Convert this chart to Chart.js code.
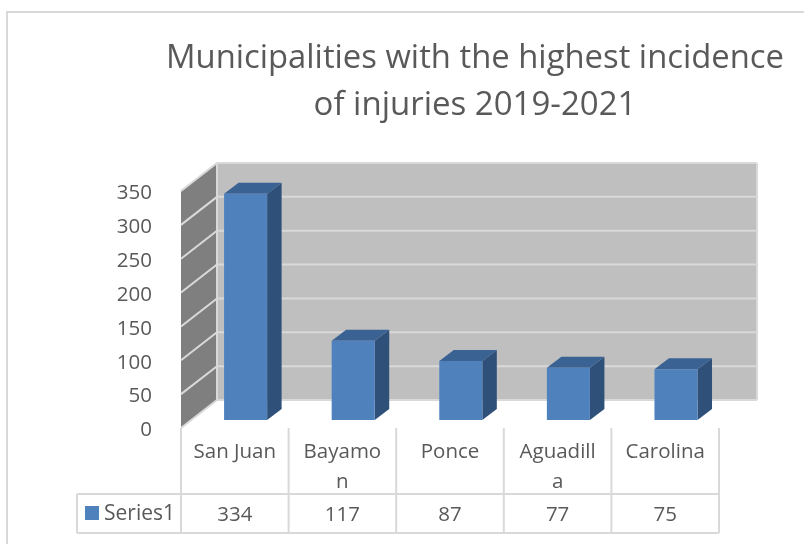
<!DOCTYPE html>
<html><head><meta charset="utf-8">
<style>html,body{margin:0;padding:0;background:#fff}canvas{display:block}#w{width:804px;height:544px}</style>
<script src="https://cdn.jsdelivr.net/npm/chart.js@4"></script></head>
<body><div id="w"><canvas id="c" width="804" height="544"></canvas></div>
<script>
const categories = [["San Juan"], ["Bayamo", "n"], ["Ponce"], ["Aguadill", "a"], ["Carolina"]];
const seriesName = "Series1";
const values = [334, 117, 87, 77, 75];
const titleLines = ["Municipalities with the highest incidence", "of injuries 2019-2021"];
const FONT = '"Open Sans"';
const TEXT = '#595959', LINE = '#d9d9d9';
const WALL_DX = 36, WALL_DY = -28, BAR_DX = 10.8, BAR_DY = -8, BAR_SX = 14.5, BAR_SY = -11;

function poly(ctx, pts, fill) {
  ctx.beginPath();
  pts.forEach((p, i) => i ? ctx.lineTo(p[0], p[1]) : ctx.moveTo(p[0], p[1]));
  ctx.closePath();
  ctx.fillStyle = fill;
  ctx.fill();
}
const scene = {
  id: 'scene',
  afterLayout(chart) {
    chart.titleBlock.left = 166;
    chart.titleBlock.right = 784;
  },
  beforeDraw(chart) {
    const ctx = chart.ctx;
    ctx.strokeStyle = LINE; ctx.lineWidth = 2;
    ctx.beginPath(); ctx.moveTo(7, 544); ctx.lineTo(7, 12); ctx.lineTo(804, 12); ctx.stroke();
  },
  beforeDatasetsDraw(chart) {
    const ctx = chart.ctx, x = chart.scales.x, y = chart.scales.y;
    const l = x.left, r = x.right, t = y.top, b = y.bottom;
    ctx.save();
    poly(ctx, [[l + WALL_DX, t + WALL_DY], [r + WALL_DX + 2, t + WALL_DY], [r + WALL_DX + 2, b + WALL_DY], [l + WALL_DX, b + WALL_DY]], '#bfbfbf');
    poly(ctx, [[l, t], [l + WALL_DX, t + WALL_DY], [l + WALL_DX, b + WALL_DY], [l, b]], '#7f7f7f');
    ctx.strokeStyle = LINE; ctx.lineWidth = 2;
    y.ticks.forEach(tk => {
      const py = y.getPixelForValue(tk.value);
      ctx.beginPath();
      ctx.moveTo(l, py);
      ctx.lineTo(l + WALL_DX, py + WALL_DY);
      ctx.lineTo(r + WALL_DX + 2, py + WALL_DY);
      ctx.stroke();
    });
    ctx.beginPath();
    ctx.moveTo(l + WALL_DX, t + WALL_DY); ctx.lineTo(l + WALL_DX, b + WALL_DY);
    ctx.moveTo(r + WALL_DX + 2, t + WALL_DY); ctx.lineTo(r + WALL_DX + 2, b + WALL_DY);
    ctx.stroke();
    chart.getDatasetMeta(0).data.forEach(bar => {
      const hw = bar.width / 2, x0 = bar.x - hw + BAR_DX, x1 = bar.x + hw + BAR_DX;
      const yT = bar.y + BAR_DY, yB = bar.base + BAR_DY;
      poly(ctx, [[x1, yT], [x1 + BAR_SX, yT + BAR_SY], [x1 + BAR_SX, yB + BAR_SY], [x1, yB]], '#2f5079');
      poly(ctx, [[x0, yT], [x0 + BAR_SX, yT + BAR_SY], [x1 + BAR_SX, yT + BAR_SY], [x1, yT]], '#3a6293');
    });
    ctx.restore();
    ctx.save();
    ctx.translate(BAR_DX, BAR_DY);
  },
  afterDatasetsDraw(chart) { chart.ctx.restore(); },
  afterDraw(chart) {
    const ctx = chart.ctx, x = chart.scales.x, y = chart.scales.y;
    const tTop = 494, tBot = 533, tLeft = 77, l = x.left, r = x.right, step = (r - l) / categories.length;
    ctx.save();
    ctx.strokeStyle = LINE; ctx.lineWidth = 2;
    ctx.beginPath();
    for (let i = 0; i <= categories.length; i++) {
      ctx.moveTo(l + i * step, y.bottom); ctx.lineTo(l + i * step, tBot);
    }
    ctx.moveTo(tLeft, tTop); ctx.lineTo(r, tTop);
    ctx.moveTo(tLeft, tBot); ctx.lineTo(r, tBot);
    ctx.moveTo(tLeft, tTop); ctx.lineTo(tLeft, tBot);
    ctx.stroke();
    ctx.fillStyle = '#4f81bd';
    ctx.fillRect(85, 506, 14, 14);
    ctx.fillStyle = TEXT;
    ctx.font = '21px ' + FONT;
    ctx.textBaseline = 'middle';
    ctx.textAlign = 'left';
    ctx.fillText(seriesName, 104, 514);
    ctx.font = '20.5px ' + FONT;
    ctx.textAlign = 'center';
    values.forEach((v, i) => ctx.fillText(String(v), l + (i + 0.5) * step, 515));
    ctx.restore();
  }
};
new Chart(document.getElementById('c'), {
  type: 'bar',
  data: {
    labels: categories,
    datasets: [{ label: seriesName, data: values, backgroundColor: '#4f81bd', borderWidth: 0,
      categoryPercentage: 0.4, barPercentage: 1 }]
  },
  options: {
    responsive: false, animation: false,
    layout: { padding: { left: 100, right: 85, top: 0, bottom: 0 } },
    plugins: {
      legend: { display: false }, tooltip: { enabled: false },
      title: { display: true, text: titleLines, color: TEXT, align: 'center',
        font: { family: FONT, size: 33, weight: 'normal', lineHeight: 1.424 },
        padding: { top: 35, bottom: 62 } }
    },
    scales: {
      x: { grid: { display: false }, border: { display: false },
        ticks: { color: TEXT, font: { family: FONT, size: 20.5, lineHeight: 1.46 }, padding: 1, maxRotation: 0, autoSkip: false },
        afterFit(s) { s.height = 116; } },
      y: { min: 0, max: 350, grid: { display: false }, border: { display: false },
        ticks: { stepSize: 50, color: TEXT, font: { family: FONT, size: 20.5 }, padding: 21, labelOffset: 2.5 },
        afterFit(s) { s.width = 81; } }
    }
  },
  plugins: [scene]
});
</script></body></html>
